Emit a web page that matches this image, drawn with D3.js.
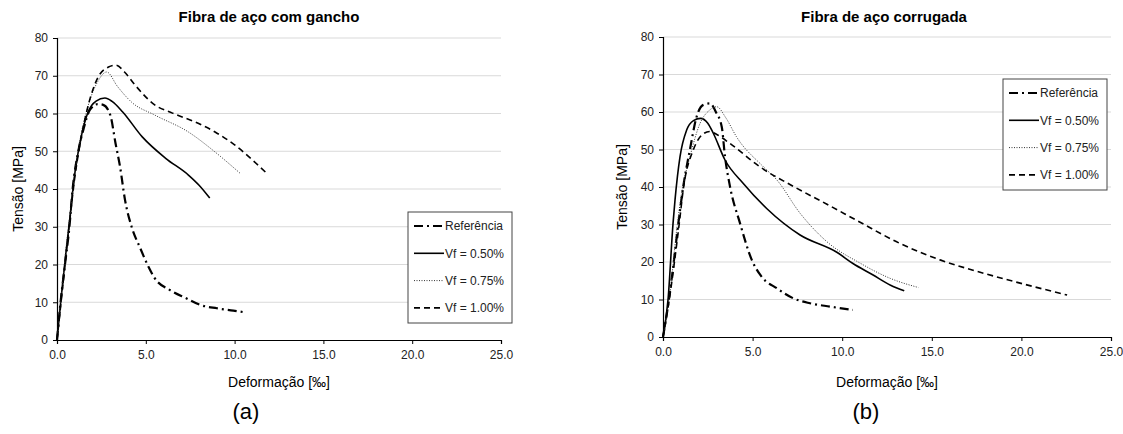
<!DOCTYPE html>
<html>
<head>
<meta charset="utf-8">
<script src="https://cdn.jsdelivr.net/npm/d3@7"></script>
<style>
  body { margin: 0; background: #fff; }
  svg { font-family: "Liberation Sans", Arial, sans-serif; }
</style>
</head>
<body>
<div id="chart"></div>
<script>
// strain [‰] / stress [MPa] pairs
const hookRef = [[0,0],[0.2,10],[0.45,20],[0.7,30],[0.88,40],[1.2,50],[1.5,56],[1.86,61],[2.3,62.5],[2.6,62.3],[3.0,59.6],[3.3,52],[3.55,45.9],[3.83,37.1],[4.2,30],[4.68,24.4],[5.15,19.4],[5.5,16.4],[6.37,13.2],[7.3,11.0],[8.06,9.3],[9.0,8.4],[9.93,7.8],[10.6,7.3]];
const hook050 = [[0,0],[0.25,12],[0.5,23],[0.72,32],[0.85,38],[1.0,44],[1.3,52.4],[1.75,60.4],[2.2,63.3],[2.7,64.1],[3.1,63.2],[3.7,60.4],[4.8,53.8],[6.1,48.2],[7.4,43.7],[8.0,41],[8.6,37.6]];
const hook075 = [[0,0],[0.25,12],[0.5,24],[0.75,34],[1.0,44],[1.3,53],[1.75,62],[2.3,68.5],[2.8,71],[3.4,67.2],[4.2,63],[5.5,59.6],[7.4,55.1],[8.9,49.8],[10.3,44.2]];
const hook100 = [[0,0],[0.25,11],[0.5,22],[0.75,33],[1.0,43],[1.3,52],[1.75,62],[2.3,69.5],[2.9,72.3],[3.33,72.8],[3.8,71],[4.4,67.5],[5.5,62.3],[6.5,60.1],[7.8,57.7],[8.9,55.1],[10.0,51.7],[11.0,47.7],[11.8,44.2]];

const corrRef = [[0,0],[0.3,9],[0.6,20],[0.85,30],[1.13,40.1],[1.5,49.9],[1.88,58.8],[2.25,61.9],[2.63,62.3],[2.95,60],[3.28,56],[3.46,48.1],[3.74,40.1],[4.3,30.3],[4.96,20.5],[5.5,16.1],[6.35,13],[7.28,10.3],[8.2,9.0],[9.33,8.1],[10.6,7.2]];
const corr050 = [[0,0],[0.28,9.9],[0.56,30.3],[0.67,36.5],[0.95,48.1],[1.32,55.2],[1.7,57.7],[2.1,58.3],[2.5,57],[2.8,54.4],[3.46,47.2],[4.47,41],[5.8,34.2],[7.65,27.2],[9.7,22.6],[10.6,19.6],[11.7,16.6],[12.7,13.8],[13.46,12.3]];
const corr075 = [[0,0],[0.4,12],[0.75,28],[1.04,38.4],[1.5,48],[2.07,57],[2.6,60.5],[3.0,61.4],[3.5,58.5],[4.1,53.4],[5.6,45.4],[6.35,41.9],[7.65,33],[9.15,25.4],[11.0,19.7],[12.7,15.6],[14.25,13.2]];
const corr100 = [[0,0],[0.35,10],[0.9,30],[1.15,40],[1.7,50],[2.2,54],[2.6,54.8],[3.0,54],[3.74,51.6],[5.4,45.4],[7.3,40.1],[9.15,35.4],[11.0,30.6],[13.2,25],[15.5,20.5],[17.9,17],[20.3,13.9],[22.55,11.2]];

const seriesNames = ["Referência", "Vf = 0.50%", "Vf = 0.75%", "Vf = 1.00%"];
const xTicks = [0, 5, 10, 15, 20, 25];
const yTicks = [0, 10, 20, 30, 40, 50, 60, 70, 80];

const styles = [
  { width: 2.2, dash: "9,4,2,4", color: "#000" },
  { width: 1.6, dash: null, color: "#000" },
  { width: 1, dash: "1,1.5", color: "#333" },
  { width: 1.6, dash: "6,4", color: "#000" },
];

const svg = d3.select('#chart')
  .append('svg')
  .attr('width', 1123)
  .attr('height', 434);

function drawPanel(opts) {
  const x = d3.scaleLinear().domain([0, 25]).range([opts.left, opts.right]);
  const y = d3.scaleLinear().domain([0, 80]).range([opts.bottom, opts.top]);
  const g = svg.append('g');

  // gridlines
  g.append('g')
    .selectAll('line')
    .data(yTicks.slice(1))
    .join('line')
    .attr('x1', opts.left).attr('x2', opts.right)
    .attr('y1', d => y(d)).attr('y2', d => y(d))
    .attr('stroke', '#d9d9d9').attr('stroke-width', 1);

  const xAxis = g.append('g')
    .attr('transform', `translate(0,${opts.bottom})`)
    .call(d3.axisBottom(x).tickValues(xTicks).tickFormat(d3.format('.1f')).tickSizeOuter(0).tickSize(4));
  const yAxis = g.append('g')
    .attr('transform', `translate(${opts.left},0)`)
    .call(d3.axisLeft(y).tickValues(yTicks).tickSizeOuter(0).tickSize(4));
  for (const ax of [xAxis, yAxis]) {
    ax.select('.domain').attr('stroke', '#000').attr('stroke-width', 1.2);
    ax.selectAll('.tick line').attr('stroke', '#000');
    ax.selectAll('.tick text').attr('font-size', 12).attr('fill', '#222')
      .attr('font-family', '"Liberation Sans", Arial, sans-serif');
  }
  xAxis.selectAll('.tick text').attr('dy', '1.0em');
  yAxis.selectAll('.tick text').attr('x', -9);

  const line = d3.line()
    .x(d => x(d[0]))
    .y(d => y(d[1]))
    .curve(d3.curveMonotoneX);

  opts.series.forEach((s, i) => {
    g.append('path')
      .datum(s)
      .attr('d', line)
      .attr('fill', 'none')
      .attr('stroke', styles[i].color)
      .attr('stroke-width', styles[i].width)
      .attr('stroke-dasharray', styles[i].dash);
  });

  // titles
  g.append('text')
    .attr('x', opts.titleX).attr('y', 22)
    .attr('text-anchor', 'middle')
    .attr('font-size', 15).attr('font-weight', 'bold')
    .text(opts.title);
  g.append('text')
    .attr('transform', `translate(${opts.yLabelX},${(opts.top + opts.bottom) / 2}) rotate(-90)`)
    .attr('text-anchor', 'middle')
    .attr('dy', '0.35em')
    .attr('font-size', 14)
    .text('Tensão [MPa]');
  g.append('text')
    .attr('x', (opts.left + opts.right) / 2).attr('y', 387)
    .attr('text-anchor', 'middle')
    .attr('font-size', 14)
    .text('Deformação [‰]');
  g.append('text')
    .attr('x', opts.letterX).attr('y', 419)
    .attr('text-anchor', 'middle')
    .attr('font-size', 22)
    .text(opts.letter);

  // legend
  const lg = g.append('g').attr('transform', `translate(${opts.legX},${opts.legY})`);
  lg.append('rect')
    .attr('width', 104).attr('height', 111)
    .attr('fill', '#fff').attr('stroke', '#444').attr('stroke-width', 1);
  seriesNames.forEach((name, i) => {
    const yy = 14 + i * 27.3;
    lg.append('line')
      .attr('x1', 6).attr('x2', 36).attr('y1', yy).attr('y2', yy)
      .attr('stroke', styles[i].color)
      .attr('stroke-width', styles[i].width)
      .attr('stroke-dasharray', styles[i].dash);
    lg.append('text')
      .attr('x', 37).attr('y', yy).attr('dy', '0.35em')
      .attr('font-size', 12).attr('fill', '#222')
      .text(name);
  });
}

drawPanel({
  left: 57, right: 501, top: 38, bottom: 340,
  title: 'Fibra de aço com gancho', titleX: 269,
  yLabelX: 18, letterX: 246, letter: '(a)',
  legX: 408, legY: 212,
  series: [hookRef, hook050, hook075, hook100],
});

drawPanel({
  left: 663, right: 1111, top: 37, bottom: 337,
  title: 'Fibra de aço corrugada', titleX: 884,
  yLabelX: 622, letterX: 866, letter: '(b)',
  legX: 1003, legY: 79,
  series: [corrRef, corr050, corr075, corr100],
});
</script>
</body>
</html>
